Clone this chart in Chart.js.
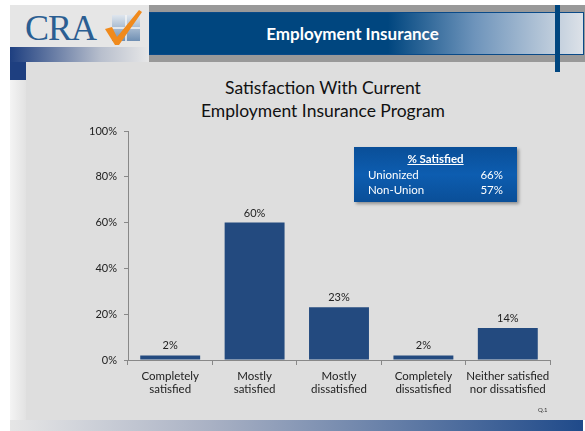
<!DOCTYPE html>
<html>
<head>
<meta charset="utf-8">
<script src="https://cdn.jsdelivr.net/npm/chart.js@4.4.0/dist/chart.umd.min.js"></script>
<style>
  html, body { margin: 0; padding: 0; background: #fff; }
  body { width: 585px; height: 431px; position: relative; overflow: hidden; font-family: Lato, "Open Sans", sans-serif; }
  .abs { position: absolute; }
  #logo { left: 10px; top: 5px; width: 139px; height: 42px; background: #e6e6e6; }
  #logoText { left: 25px; top: 7px; font-family: "Liberation Serif", "DejaVu Serif", serif; font-size: 36px; color: #2b5e92; letter-spacing: -1px; }
  #logoBar { left: 10px; top: 47px; width: 140px; height: 15px; background: linear-gradient(to right, #1e3f80, #b8bfcd 65%, #e8e8e8); }
  #topGray { left: 149px; top: 5px; width: 436px; height: 57px; background: #999; }
  #header { left: 149px; top: 12px; width: 433px; height: 41px; border: 1px solid #0a4a88; background: linear-gradient(to right, #00467f 0%, #00467f 55%, #6e94bb 75%, #dde2e8 100%); }
  #headerText { left: 149px; top: 12px; width: 407px; height: 43px; line-height: 43px; text-align: center; color: #fff; font-weight: bold; font-size: 17px; }
  #vline { left: 555px; top: 5px; width: 5px; height: 67px; background: #00467f; }
  #panel { left: 26px; top: 62px; width: 559px; height: 358px; background: #dedede; }
  #leftStrip { left: 10px; top: 62px; width: 16px; height: 358px; background: linear-gradient(to right, #f4f4f4, #e2e2e2); }
  #leftBlue { left: 10px; top: 62px; width: 16px; height: 18px; background: #1e3f80; }
  #bottomBar { left: 10px; top: 420px; width: 573px; height: 11px; background: linear-gradient(to right, #e6e6e6, #a9b1c4 35%, #1f4a8a); }
  #title { left: 163px; top: 76px; width: 320px; text-align: center; font-size: 17.5px; line-height: 23px; color: #111; }
  #box { left: 354px; top: 147px; width: 163px; height: 55px; background: linear-gradient(to bottom, #0a4f98, #0d5db0 50%, #0a4f98); box-shadow: 2px 2px 3px rgba(0,0,0,0.35); color: #fff; font-size: 11.5px; }
  #box .t { position: absolute; left: 0; width: 100%; top: 5px; text-align: center; font-weight: bold; text-decoration: underline; }
  #box .l { position: absolute; left: 14px; }
  #box .r { position: absolute; right: 14px; }
  #q { left: 538px; top: 406px; font-size: 6px; color: #333; }
  #c { position: absolute; left: 0; top: 0; }
</style>
</head>
<body>
<div id="logo" class="abs"></div>
<div id="logoText" class="abs">CRA</div>
<svg class="abs" style="left:102px;top:7px" width="42" height="40" viewBox="0 0 42 40">
  <defs><linearGradient id="g" x1="0" y1="0" x2="0" y2="1"><stop offset="0" stop-color="#dfe6ee"/><stop offset="1" stop-color="#6f8fb3"/></linearGradient></defs>
  <rect x="10" y="8" width="28" height="26" fill="url(#g)"/>
  <line x1="24" y1="8" x2="24" y2="34" stroke="#f6f6f6" stroke-width="1.5"/>
  <line x1="10" y1="21" x2="38" y2="21" stroke="#f6f6f6" stroke-width="1.5"/>
  <path d="M3 22 L10 20 L15 30 L37 3 L40 5 L17 38 L13 38 Z" fill="#f08a1c"/>
</svg>
<div id="logoBar" class="abs"></div>
<div id="topGray" class="abs"></div>
<div id="header" class="abs"></div>
<div id="headerText" class="abs">Employment Insurance</div>
<div id="panel" class="abs"></div>
<div id="leftStrip" class="abs"></div>
<div id="leftBlue" class="abs"></div>
<div id="vline" class="abs"></div>
<div id="bottomBar" class="abs"></div>
<div id="title" class="abs">Satisfaction With Current<br>Employment Insurance Program</div>
<canvas id="c" width="585" height="431"></canvas>
<div id="box" class="abs">
  <div class="t">% Satisfied</div>
  <div class="l" style="top:21px">Unionized</div><div class="r" style="top:21px">66%</div>
  <div class="l" style="top:36px">Non-Union</div><div class="r" style="top:36px">57%</div>
</div>
<div id="q" class="abs">Q.1</div>
<script>
var categories = [['Completely', 'satisfied'], ['Mostly', 'satisfied'], ['Mostly', 'dissatisfied'], ['Completely', 'dissatisfied'], ['Neither satisfied', 'nor dissatisfied']];
var values = [2, 60, 23, 2, 14];
var yTicks = [0, 20, 40, 60, 80, 100];

var barLabels = {
  id: 'barLabels',
  afterDatasetsDraw: function(chart) {
    var ctx = chart.ctx;
    var meta = chart.getDatasetMeta(0);
    ctx.save();
    ctx.fillStyle = '#222';
    ctx.font = '11px Lato, sans-serif';
    ctx.textAlign = 'center';
    ctx.textBaseline = 'bottom';
    meta.data.forEach(function(bar, i) {
      ctx.fillText(values[i] + '%', bar.x, bar.y - 4);
    });
    ctx.restore();
  }
};

var ctx = document.getElementById('c').getContext('2d');
var myChart = new Chart(ctx, {
  type: 'bar',
  data: {
    labels: categories,
    datasets: [{
      data: values,
      backgroundColor: '#234a7f',
      barPercentage: 0.71,
      categoryPercentage: 1
    }]
  },
  plugins: [barLabels],
  options: {
    responsive: false,
    animation: false,
    layout: { padding: { left: 80, right: 35, top: 131, bottom: 21 } },
    plugins: {
      legend: { display: false },
      tooltip: { enabled: false }
    },
    scales: {
      x: {
        afterFit: function(scale) { scale.height = 50; },
        grid: { drawOnChartArea: false, tickLength: 5, color: '#888' },
        border: { color: '#888' },
        ticks: { color: '#222', font: { family: 'Lato, sans-serif', size: 11.5 }, padding: 4, maxRotation: 0, autoSkip: false }
      },
      y: {
        min: 0, max: 100,
        afterFit: function(scale) { scale.width = 48; },
        afterBuildTicks: function(scale) { scale.ticks = yTicks.map(function(v) { return { value: v }; }); },
        grid: { drawOnChartArea: false, tickLength: 4, color: '#888' },
        border: { color: '#888' },
        ticks: { color: '#222', font: { family: 'Lato, sans-serif', size: 11 }, padding: 7, callback: function(v) { return v + '%'; } }
      }
    }
  }
});
</script>
</body>
</html>
